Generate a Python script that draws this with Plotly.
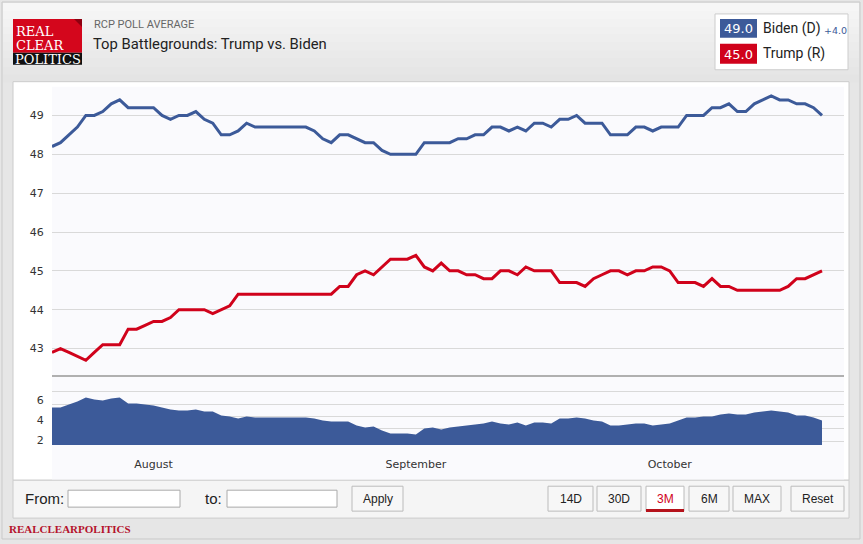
import plotly.graph_objects as go
import pandas as pd

# Данные RCP: средние по опросам, 20.07.2020 - 19.10.2020
start_date = "2020-07-20"
biden = [
    48.2, 48.3, 48.5, 48.7, 49.0, 49.0, 49.1, 49.3, 49.4, 49.2, 49.2, 49.2,
    49.2, 49.0, 48.9, 49.0, 49.0, 49.1, 48.9, 48.8, 48.5, 48.5, 48.6, 48.8,
    48.7, 48.7, 48.7, 48.7, 48.7, 48.7, 48.7, 48.6, 48.4, 48.3, 48.5, 48.5,
    48.4, 48.3, 48.3, 48.1, 48.0, 48.0, 48.0, 48.0, 48.3, 48.3, 48.3, 48.3,
    48.4, 48.4, 48.5, 48.5, 48.7, 48.7, 48.6, 48.7, 48.6, 48.8, 48.8, 48.7,
    48.9, 48.9, 49.0, 48.8, 48.8, 48.8, 48.5, 48.5, 48.5, 48.7, 48.7, 48.6,
    48.7, 48.7, 48.7, 49.0, 49.0, 49.0, 49.2, 49.2, 49.3, 49.1, 49.1, 49.3,
    49.4, 49.5, 49.4, 49.4, 49.3, 49.3, 49.2, 49.0,
]
trump = [
    42.9, 43.0, 42.9, 42.8, 42.7, 42.9, 43.1, 43.1, 43.1, 43.5, 43.5, 43.6,
    43.7, 43.7, 43.8, 44.0, 44.0, 44.0, 44.0, 43.9, 44.0, 44.1, 44.4, 44.4,
    44.4, 44.4, 44.4, 44.4, 44.4, 44.4, 44.4, 44.4, 44.4, 44.4, 44.6, 44.6,
    44.9, 45.0, 44.9, 45.1, 45.3, 45.3, 45.3, 45.4, 45.1, 45.0, 45.2, 45.0,
    45.0, 44.9, 44.9, 44.8, 44.8, 45.0, 45.0, 44.9, 45.1, 45.0, 45.0, 45.0,
    44.7, 44.7, 44.7, 44.6, 44.8, 44.9, 45.0, 45.0, 44.9, 45.0, 45.0, 45.1,
    45.1, 45.0, 44.7, 44.7, 44.7, 44.6, 44.8, 44.6, 44.6, 44.5, 44.5, 44.5,
    44.5, 44.5, 44.5, 44.6, 44.8, 44.8, 44.9, 45.0,
]
month_ticks = ["2020-08-01", "2020-09-01", "2020-10-01"]
month_labels = ["August", "September", "October"]
main_ticks = [43, 44, 45, 46, 47, 48, 49]
spread_ticks = [2, 4, 6]
range_buttons = ["14D", "30D", "3M", "6M", "MAX", "Reset"]

BLUE = "#3c5a99"
RED = "#d0021b"
GRID = "#d9d9d9"

dates = pd.date_range(start_date, periods=len(biden), freq="D")
spread = [round(b - t, 1) for b, t in zip(biden, trump)]
x_range = [dates[0], dates[0] + pd.Timedelta(days=93.6)]

W, H = 863, 544


def px(x):
    return x / W


def py(y):
    return 1 - y / H


shapes = []
annotations = []


def box(x0, y0, x1, y1, fill, line=None, width=1):
    shapes.append(dict(
        type="rect", xref="paper", yref="paper", layer="below",
        x0=px(x0), x1=px(x1), y0=py(y1), y1=py(y0),
        fillcolor=fill, line=dict(color=line or fill, width=width if line else 0),
    ))


def label(x, y, s, size=12, color="#222", family="Roboto", xanchor="left", bold=False):
    if bold:
        s = f"<b>{s}</b>"
    annotations.append(dict(
        xref="paper", yref="paper", x=px(x), y=py(y), text=s, showarrow=False,
        xanchor=xanchor, yanchor="middle",
        font=dict(size=size, color=color, family=family),
    ))


# фон рамки и шапки (градиент полосами)
box(2, 2, 860, 541, "#e6e6e6", "#c9c9c9")
for i in range(10):
    g = 246 - i * 2
    box(3, 3 + i * 8, 859, 11 + i * 8, f"rgb({g},{g},{g})")

# логотип
box(13, 19, 82, 53, "#d4061c")
box(13, 53, 82, 65, "#111111")
shapes.append(dict(type="path", xref="paper", yref="paper",
                   path=f"M {px(74)} {py(19)} L {px(82)} {py(19)} L {px(82)} {py(27)} Z",
                   fillcolor="#8e0010", line=dict(width=0)))
label(14, 31.5, "REAL", 13, "white", "DejaVu Serif")
label(14, 46, "CLEAR", 13, "white", "DejaVu Serif")
label(13, 59.5, "POLITICS", 13, "white", "DejaVu Serif")

label(92, 25, "RCP POLL AVERAGE", 11, "#666")
label(91, 44.5, "Top Battlegrounds: Trump vs. Biden", 14.8, "#222")

# легенда
box(715, 14, 848, 70, "white", "#cccccc")
box(720, 19, 757, 38, BLUE)
box(720, 44, 757, 64, RED)
label(738.5, 29, f"{biden[-1]:.1f}", 13, "white", "DejaVu Sans", "center")
label(738.5, 54.5, f"{trump[-1]:.1f}", 13, "white", "DejaVu Sans", "center")
label(761, 29, "Biden (D)", 14, "#222")
label(761, 54, "Trump (R)", 14, "#222")
label(822, 31, f"+{spread[-1]:.1f}", 9.5, BLUE, "DejaVu Sans")

# панель графика
box(13, 82, 849, 482, "white", "#cccccc")
box(52, 87, 844, 482, "#fafafd")

# нижняя панель управления
box(13, 482, 849, 520, "#f5f5f5", "#cccccc")
label(23, 500, "From:", 15, "#222", "Liberation Sans")
box(68, 492, 180, 509, "white", "#aaaaaa")
label(203, 500, "to:", 15, "#222", "Liberation Sans")
box(227, 492, 337, 509, "white", "#aaaaaa")
box(352, 488, 403, 513, "#f7f7f7", "#bbbbbb")
label(377.5, 501, "Apply", 12, "#222", "Liberation Sans", "center")
btn_x = [(548, 593), (597, 641), (646, 684), (689, 729), (733, 781), (791, 844)]
for name, (a, b) in zip(range_buttons, btn_x):
    active = name == "3M"
    box(a, 488, b, 513, "white" if active else "#f7f7f7", "#bbbbbb")
    label((a + b) / 2, 501, name, 12, RED if active else "#222", "Liberation Sans", "center")
    if active:
        box(a, 511, b, 514, "#b5121b")

label(7, 531, "REALCLEARPOLITICS", 11, "#b5122c", "Liberation Serif", bold=True)

fig = go.Figure()
fig.add_trace(go.Scatter(
    x=dates, y=spread, xaxis="x2", yaxis="y2", mode="lines", fill="tozeroy",
    line=dict(color=BLUE, width=0), fillcolor=BLUE, name="Spread",
))
fig.add_trace(go.Scatter(x=[dates[0]], y=[None], xaxis="x2", yaxis="y3", showlegend=False))
fig.add_trace(go.Scatter(x=dates, y=biden, mode="lines", line=dict(color=BLUE, width=3), name="Biden (D)"))
fig.add_trace(go.Scatter(x=dates, y=trump, mode="lines", line=dict(color=RED, width=3), name="Trump (R)"))

tick_font = dict(family="DejaVu Sans", size=11, color="#333")
fig.update_layout(
    width=W, height=H,
    margin=dict(l=0, r=0, t=0, b=0),
    paper_bgcolor="#e6e6e6",
    plot_bgcolor="rgba(0,0,0,0)",
    showlegend=False,
    shapes=shapes,
    annotations=annotations,
    xaxis=dict(domain=[px(52), px(844)], anchor="y", range=x_range, showticklabels=False,
               showgrid=False, zeroline=False, showline=True, linecolor="#b0b0b0", linewidth=2),
    yaxis=dict(domain=[py(376), py(87)], anchor="x", range=[42.33, 49.74], tickvals=main_ticks,
               gridcolor=GRID, zeroline=False, tickfont=tick_font,
               ticks="outside", ticklen=5, tickcolor="rgba(0,0,0,0)"),
    xaxis2=dict(domain=[px(52), px(844)], anchor="y2", range=x_range,
                tickvals=pd.to_datetime(month_ticks), ticktext=month_labels, tickfont=tick_font,
                showgrid=False, zeroline=False, ticks="outside", ticklen=9, tickcolor="rgba(0,0,0,0)"),
    yaxis2=dict(domain=[py(446.7), py(385)], anchor="x2", range=[1.53, 7.7], tickvals=spread_ticks,
                showgrid=False, zeroline=False, tickfont=tick_font,
                ticks="outside", ticklen=5, tickcolor="rgba(0,0,0,0)"),
    yaxis3=dict(overlaying="y2", anchor="x2", range=[-0.324, 4.67], dtick=1, showticklabels=False,
                gridcolor=GRID, zeroline=False),
)

# убираем отступ body, чтобы фигура встала ровно в окно
fig.write_html("out.html", config={"displayModeBar": False},
               post_script="document.body.style.margin='0';")
